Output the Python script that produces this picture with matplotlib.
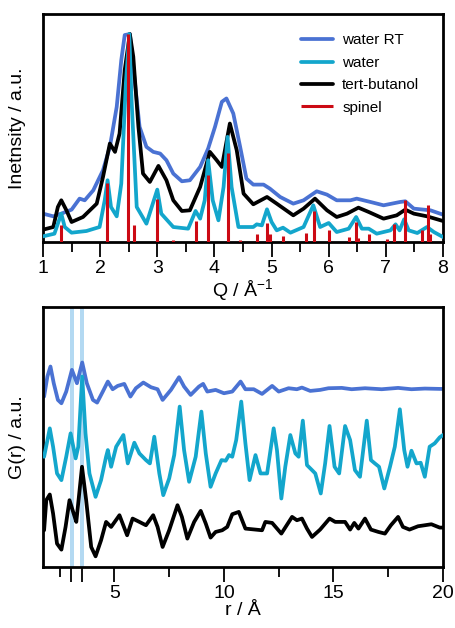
import numpy as np
import matplotlib
matplotlib.use("Agg")
import matplotlib.pyplot as plt

plt.rcParams['font.family'] = ['Liberation Sans', 'DejaVu Sans']
plt.rcParams['mathtext.default'] = 'regular'

# ---- top panel: intensity vs Q (arbitrary units) ----
q_rt = [1.0, 1.18, 1.32, 1.5, 1.64, 1.73, 1.88, 2.05, 2.17, 2.29, 2.37, 2.43, 2.52, 2.61,
        2.69, 2.81, 2.93, 3.05, 3.16, 3.28, 3.43, 3.57, 3.75, 3.89, 4.01, 4.13, 4.21, 4.33,
        4.45, 4.56, 4.68, 4.86, 4.97, 5.15, 5.38, 5.56, 5.79, 5.97, 6.14, 6.38, 6.49, 6.73,
        6.96, 7.25, 7.34, 7.49, 7.78, 8.0]
i_rt = [85, 77, 85, 97, 130, 125, 155, 215, 285, 405, 545, 620, 623, 475,
        345, 285, 270, 265, 245, 205, 182, 185, 225, 280, 345, 420, 430, 385,
        285, 190, 172, 172, 160, 135, 115, 125, 152, 142, 125, 125, 130, 120,
        110, 120, 122, 100, 95, 82]

q_tb = [1.0, 1.18, 1.26, 1.32, 1.41, 1.5, 1.7, 1.94, 2.05, 2.17, 2.26, 2.34, 2.43, 2.52,
        2.58, 2.67, 2.75, 2.87, 3.02, 3.16, 3.28, 3.43, 3.57, 3.75, 3.92, 4.04, 4.13, 4.27,
        4.39, 4.51, 4.68, 4.92, 5.09, 5.38, 5.56, 5.76, 5.97, 6.14, 6.32, 6.52, 6.7, 6.96,
        7.19, 7.34, 7.49, 7.72, 8.0]
i_tb = [37, 45, 105, 125, 95, 60, 75, 115, 195, 295, 270, 325, 515, 623,
        555, 345, 205, 180, 228, 185, 125, 93, 95, 165, 270, 245, 225, 355,
        275, 145, 113, 135, 115, 80, 100, 130, 95, 75, 85, 103, 90, 70,
        80, 97, 85, 77, 63]

q_w = [1.0, 1.2, 1.28, 1.32, 1.38, 1.5, 1.76, 1.99, 2.08, 2.13, 2.19, 2.29, 2.37, 2.45,
       2.51, 2.55, 2.64, 2.81, 2.94, 3.0, 3.07, 3.28, 3.54, 3.67, 3.75, 3.83, 3.89, 3.97,
       4.07, 4.16, 4.23, 4.3, 4.42, 4.68, 4.74, 4.83, 4.92, 5.0, 5.09, 5.2, 5.33, 5.56,
       5.73, 5.85, 6.0, 6.14, 6.35, 6.48, 6.58, 6.7, 6.84, 7.08, 7.17, 7.24, 7.32, 7.4,
       7.55, 7.72, 7.84, 8.0]
i_w = [17, 25, 65, 85, 45, 28, 33, 45, 125, 185, 105, 77, 175, 475,
       623, 425, 105, 55, 125, 157, 85, 45, 40, 93, 70, 125, 245, 125,
       65, 165, 315, 165, 45, 45, 53, 50, 98, 60, 35, 43, 28, 45,
       110, 45, 57, 30, 40, 75, 40, 40, 25, 35, 53, 35, 68, 35,
       27, 45, 30, 15]

q_sp = [1.31, 2.12, 2.48, 2.6, 3.0, 3.27, 3.68, 3.89, 4.24, 4.44, 4.74, 4.92, 4.97, 5.2,
        5.61, 5.75, 6.0, 6.35, 6.48, 6.52, 6.7, 7.02, 7.15, 7.34, 7.63, 7.74, 7.78]
i_sp = [50, 177, 623, 50, 128, 5, 62, 200, 267, 7, 23, 57, 23, 17,
        27, 93, 35, 15, 59, 13, 23, 9, 55, 125, 35, 111, 25]

# ---- bottom panel: G(r) vs r (arbitrary units, offset) ----
r_rt = [1.79, 1.94, 2.08, 2.23, 2.42, 2.58, 2.8, 3.06, 3.29, 3.53, 3.74, 4.02, 4.21, 4.47,
        4.7, 4.92, 5.15, 5.45, 5.73, 5.98, 6.32, 6.67, 6.97, 7.2, 7.58, 7.95, 8.18, 8.48,
        8.86, 9.05, 9.24, 9.62, 10.0, 10.38, 10.76, 10.98, 11.36, 11.74, 12.2, 12.5, 12.95,
        13.33, 13.56, 13.94, 14.39, 14.77, 15.38, 15.83, 16.44, 17.2, 17.95, 18.56, 19.17,
        19.85, 20.0]
g_rt = [510, 570, 600, 550, 500, 490, 525, 590, 550, 612, 550, 500, 492, 525,
        555, 532, 542, 548, 510, 535, 552, 538, 532, 500, 530, 568, 540, 515,
        540, 548, 525, 530, 520, 525, 555, 532, 532, 518, 542, 525, 535,
        532, 537, 527, 530, 535, 536, 532, 535, 532, 536, 532, 534,
        533, 533]

r_w = [1.79, 2.05, 2.2, 2.38, 2.58, 2.8, 3.0, 3.23, 3.35, 3.53, 3.68, 3.86, 4.14, 4.39,
       4.62, 4.7, 4.85, 5.08, 5.41, 5.61, 5.91, 6.14, 6.44, 6.62, 6.82, 7.05, 7.23, 7.5,
       7.73, 7.98, 8.18, 8.41, 8.71, 8.97, 9.17, 9.39, 9.62, 9.89, 10.08, 10.23, 10.38,
       10.56, 10.79, 10.98, 11.17, 11.44, 11.67, 11.97, 12.27, 12.42, 12.62, 12.8, 13.03,
       13.26, 13.41, 13.6, 13.79, 14.02, 14.17, 14.42, 14.62, 14.82, 15.05, 15.26, 15.53,
       15.76, 15.98, 16.21, 16.52, 16.71, 16.89, 17.08, 17.32, 17.58, 17.8, 18.03, 18.23,
       18.38, 18.56, 18.79, 18.98, 19.17, 19.39, 19.62, 19.85, 20.0]
g_w = [330, 415, 360, 280, 260, 330, 400, 325, 360, 570, 400, 280, 210, 260,
       330, 350, 300, 360, 395, 310, 372, 340, 320, 310, 390, 280, 215, 265,
       335, 480, 350, 255, 330, 465, 340, 240, 280, 320, 318, 335, 330,
       380, 495, 370, 260, 335, 280, 280, 415, 350, 205, 300, 395,
       340, 330, 438, 305, 290, 280, 220, 310, 422, 300, 280, 422,
       380, 290, 270, 438, 320, 310, 300, 235, 300, 360, 472, 350,
       300, 348, 310, 312, 270, 360, 370, 388, 395]

r_tb = [1.79, 1.89, 2.05, 2.2, 2.38, 2.58, 2.77, 2.95, 3.14, 3.26, 3.52, 3.71, 3.94, 4.14,
        4.39, 4.62, 4.85, 5.23, 5.58, 5.83, 6.14, 6.44, 6.77, 6.97, 7.2, 7.5, 7.88, 8.08,
        8.33, 8.64, 8.94, 9.17, 9.39, 9.62, 9.92, 10.15, 10.38, 10.68, 10.98, 11.44, 11.74,
        11.89, 12.2, 12.62, 13.11, 13.33, 13.56, 13.79, 14.02, 14.39, 14.82, 15.08, 15.53,
        15.76, 15.95, 16.14, 16.44, 16.71, 17.05, 17.35, 17.62, 17.95, 18.17, 18.47, 18.86,
        19.17, 19.47, 19.85, 20.0]
g_tb = [110, 200, 217, 160, 70, 52, 120, 200, 160, 135, 300, 200, 60, 32,
        80, 135, 120, 155, 95, 145, 135, 125, 155, 120, 60, 110, 185, 150,
        85, 135, 168, 130, 88, 105, 110, 120, 158, 165, 115, 112, 110,
        135, 132, 100, 150, 140, 145, 115, 90, 112, 145, 135, 135,
        112, 132, 115, 145, 112, 105, 100, 125, 150, 120, 112, 122,
        125, 128, 118, 118]

bands = [(2.95, 3.15), (3.41, 3.62)]

c_rt = '#4a72d3'
c_w = '#13a6cc'
c_tb = '#000000'
c_sp = '#cc0a14'
c_band = '#b3d9f2'

fig = plt.figure(figsize=(4.56, 6.28), dpi=100)
ax1 = fig.add_axes([0.0943, 0.6146, 0.8772, 0.3631])
ax2 = fig.add_axes([0.0943, 0.0971, 0.8772, 0.4140])

lw = 2.7
kw = dict(lw=lw, solid_joinstyle='round', solid_capstyle='round')
ax1.plot(q_rt, i_rt, color=c_rt, label='water RT', zorder=2, **kw)
ax1.plot(q_tb, i_tb, color=c_tb, label='tert-butanol', zorder=3, **kw)
ax1.plot(q_w, i_w, color=c_w, label='water', zorder=4, **kw)
ax1.vlines(q_sp, 0, i_sp, color=c_sp, lw=2.2, label='spinel', zorder=5)
ax1.set_xlim(1, 8)
ax1.set_ylim(0, 683)
ax1.set_xticks(range(1, 9))
ax1.set_xticks(np.arange(1.5, 8, 1.0), minor=True)
ax1.set_yticks([])
ax1.set_xlabel('Q / Å$^{-1}$', fontsize=14, labelpad=0)
ax1.set_ylabel('Inetnsity / a.u.', fontsize=14, labelpad=12)

h, l = ax1.get_legend_handles_labels()
order = [0, 2, 1, 3]
ax1.legend([h[k] for k in order], [l[k] for k in order], loc='upper right',
           frameon=False, fontsize=11, handlelength=2.1, handletextpad=0.6,
           labelspacing=0.55, bbox_to_anchor=(0.975, 0.975))

ax2.plot(r_rt, g_rt, color=c_rt, zorder=2, **kw)
ax2.plot(r_w, g_w, color=c_w, zorder=3, **kw)
ax2.plot(r_tb, g_tb, color=c_tb, zorder=4, **kw)
for lo, hi in bands:
    ax2.axvspan(lo, hi, color=c_band, lw=0, zorder=1)
ax2.set_xlim(1.74, 20)
ax2.set_ylim(0, 778)
ax2.set_xticks([3.0, 3.5, 5, 10, 15, 20])
ax2.set_xticklabels(['', '', '5', '10', '15', '20'])
ax2.set_xticks([2.5, 7.5, 12.5, 17.5], minor=True)
ax2.set_yticks([])
ax2.set_xlabel('r / Å', fontsize=14, labelpad=0)
ax2.set_ylabel('G(r) / a.u.', fontsize=14, labelpad=12)

for ax in (ax1, ax2):
    for s in ax.spines.values():
        s.set_linewidth(2.0)
    ax.tick_params(axis='x', which='major', direction='out', length=11, width=1.3,
                   labelsize=14, pad=2)
    ax.tick_params(axis='x', which='minor', direction='out', length=7, width=1.3)

fig.savefig('out.png', dpi=100)
